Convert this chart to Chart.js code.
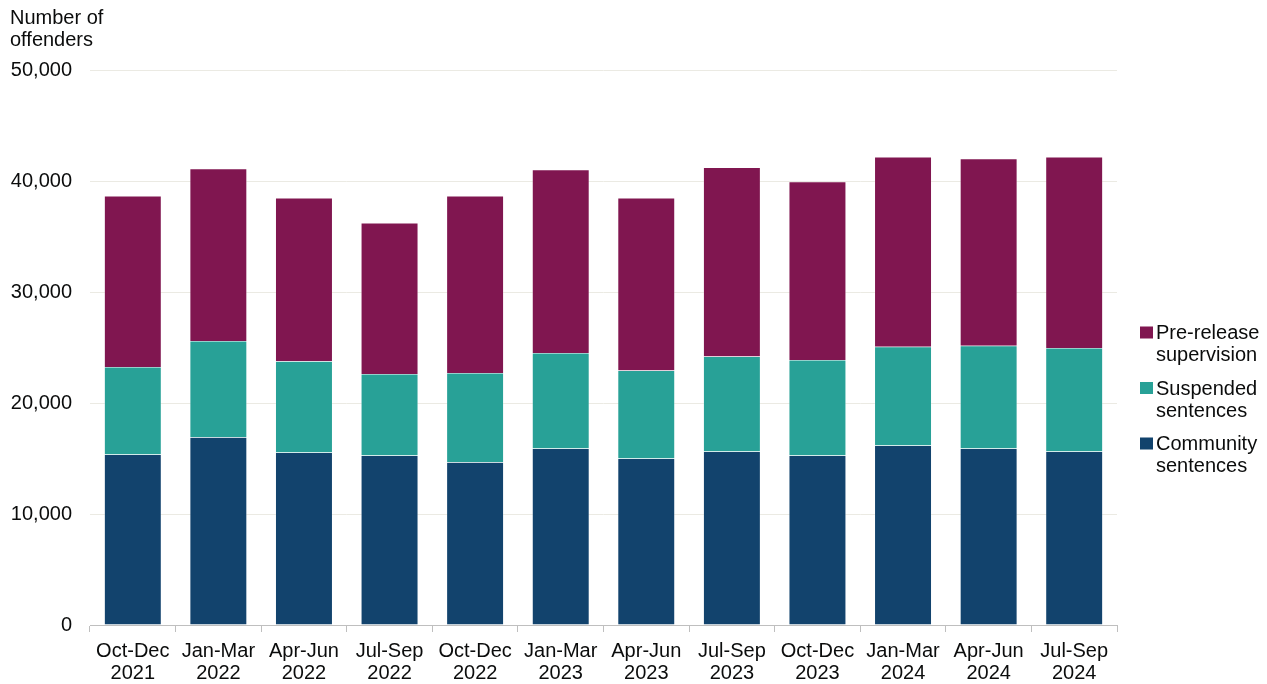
<!DOCTYPE html>
<html>
<head>
<meta charset="utf-8">
<title>Offenders under supervision</title>
<script src="https://cdn.jsdelivr.net/npm/chart.js@4/dist/chart.umd.min.js"></script>
<style>
  body { margin: 0; background: #fff; }
  canvas { display: block; }
</style>
</head>
<body>
<canvas id="chart" width="1267" height="684"></canvas>
<script>
// quarters shown on the x axis
const quarters = [
  ["Oct-Dec", "2021"], ["Jan-Mar", "2022"], ["Apr-Jun", "2022"], ["Jul-Sep", "2022"],
  ["Oct-Dec", "2022"], ["Jan-Mar", "2023"], ["Apr-Jun", "2023"], ["Jul-Sep", "2023"],
  ["Oct-Dec", "2023"], ["Jan-Mar", "2024"], ["Apr-Jun", "2024"], ["Jul-Sep", "2024"]
];

const communitySentences = [15370, 16940, 15550, 15280, 14680, 15910, 15010, 15640, 15280, 16180, 15910, 15640];
const suspendedSentences = [7900, 8670, 8230, 7360, 8050, 8620, 7930, 8560, 8620, 8920, 9280, 9340];
const preReleaseSupervision = [15410, 15530, 14720, 13600, 15950, 16520, 15560, 17060, 16070, 17090, 16860, 17210];

const yTicks = [0, 10000, 20000, 30000, 40000, 50000];

const textColor = "#0b0c0c";
const fontFamily = "'Liberation Sans', Arial, sans-serif";

// legend drawn by hand so the labels can wrap onto two lines
const sideLegend = {
  id: "sideLegend",
  afterDraw(chart) {
    const ctx = chart.ctx;
    const area = chart.chartArea;
    const x = area.right + 23;
    let y = area.top + 262;
    ctx.save();
    ctx.font = "20px " + fontFamily;
    ctx.textBaseline = "middle";
    ctx.textAlign = "left";
    chart.data.datasets.slice().reverse().forEach((ds) => {
      ctx.fillStyle = ds.backgroundColor;
      ctx.fillRect(x, y - 6, 13, 12);
      ctx.fillStyle = textColor;
      ds.label.split(" ").forEach((line, i) => {
        ctx.fillText(line, x + 16, y + 1 + i * 22);
      });
      y += 55.5;
    });
    ctx.restore();
  }
};

const chart = new Chart(document.getElementById("chart"), {
  type: "bar",
  data: {
    labels: quarters,
    datasets: [
      {
        label: "Community sentences",
        data: communitySentences,
        backgroundColor: "#12436d",
        borderColor: "rgba(255,255,255,0.6)",
        borderWidth: 0.5
      },
      {
        label: "Suspended sentences",
        data: suspendedSentences,
        backgroundColor: "#28a197",
        borderColor: "rgba(255,255,255,0.6)",
        borderWidth: 0.5
      },
      {
        label: "Pre-release supervision",
        data: preReleaseSupervision,
        backgroundColor: "#801650",
        borderColor: "rgba(255,255,255,0.6)",
        borderWidth: 0.5
      }
    ]
  },
  options: {
    responsive: false,
    animation: false,
    devicePixelRatio: 1,
    barPercentage: 0.666,
    categoryPercentage: 1,
    layout: { padding: { left: 10, right: 150, top: 0, bottom: 0 } },
    plugins: {
      legend: { display: false },
      tooltip: { enabled: false },
      title: {
        display: true,
        text: ["Number of", "offenders"],
        align: "start",
        color: textColor,
        font: { family: fontFamily, size: 20, weight: "normal", lineHeight: 1.1 },
        padding: { top: 7, bottom: 19.5 }
      }
    },
    scales: {
      x: {
        stacked: true,
        border: { color: "#bfbfbf" },
        grid: {
          display: true,
          drawOnChartArea: false,
          color: "#bfbfbf",
          tickLength: 7
        },
        ticks: {
          color: textColor,
          padding: 8,
          maxRotation: 0,
          autoSkip: false,
          font: { family: fontFamily, size: 20, lineHeight: 1.12 }
        },
        afterFit(axis) {
          axis.height = 59;
          axis.paddingLeft = 0;
          axis.paddingRight = 0;
        }
      },
      y: {
        stacked: true,
        min: 0,
        max: 50000,
        afterBuildTicks(axis) {
          axis.ticks = yTicks.map((v) => ({ value: v }));
        },
        afterFit(axis) {
          axis.width = 80;
        },
        border: { display: false },
        grid: { color: "#ebeae3", drawTicks: false },
        ticks: {
          color: textColor,
          padding: 18,
          font: { family: fontFamily, size: 20 },
          callback: (v) => v.toLocaleString("en-GB")
        }
      }
    }
  },
  plugins: [sideLegend]
});
</script>
</body>
</html>
